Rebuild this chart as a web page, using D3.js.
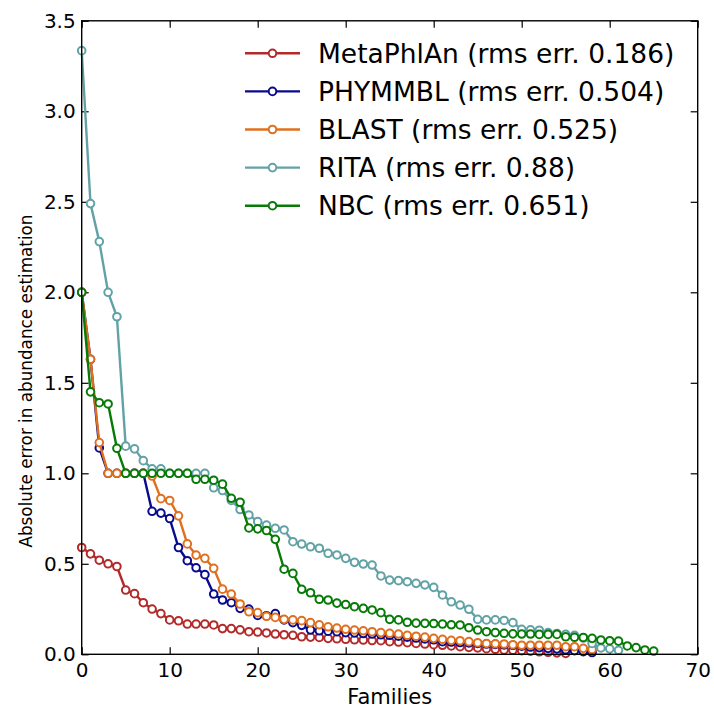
<!DOCTYPE html>
<html><head><meta charset="utf-8">
<script src="https://cdn.jsdelivr.net/npm/d3@7"></script>
<style>body{margin:0;background:#fff}svg{display:block}</style>
</head><body>
<script>
const seriesNames = ["MetaPhlAn (rms err. 0.186)","PHYMMBL (rms err. 0.504)","BLAST (rms err. 0.525)","RITA (rms err. 0.88)","NBC (rms err. 0.651)"];
const seriesColors = ["#b22a2a","#0a0a8c","#e0701e","#62a2a6","#077a07"];
const metaphlan = [0.59,0.555,0.52,0.50,0.485,0.355,0.335,0.285,0.25,0.225,0.19,0.185,0.167,0.167,0.167,0.162,0.142,0.142,0.135,0.125,0.123,0.118,0.112,0.108,0.105,0.097,0.095,0.093,0.088,0.086,0.083,0.08,0.079,0.076,0.075,0.07,0.068,0.064,0.06,0.057,0.053,0.05,0.046,0.042,0.038,0.035,0.031,0.028,0.024,0.022,0.02,0.017,0.014,0.011,0.008,0.005];
const phymmbl = [2.0,1.63,1.14,1.0,1.0,1.0,1.0,1.0,0.79,0.78,0.75,0.59,0.517,0.478,0.44,0.333,0.30,0.285,0.254,0.25,0.215,0.213,0.225,0.19,0.175,0.16,0.135,0.13,0.128,0.125,0.12,0.118,0.115,0.112,0.108,0.105,0.1,0.095,0.09,0.085,0.08,0.07,0.068,0.065,0.063,0.06,0.057,0.055,0.052,0.05,0.045,0.04,0.037,0.033,0.03,0.025,0.02,0.015,0.01];
const blast = [2.0,1.63,1.17,1.0,1.0,1.0,1.0,1.0,0.985,0.86,0.85,0.765,0.61,0.548,0.53,0.475,0.36,0.333,0.278,0.235,0.23,0.21,0.204,0.193,0.19,0.186,0.175,0.163,0.152,0.145,0.138,0.134,0.13,0.125,0.12,0.116,0.112,0.105,0.1,0.095,0.088,0.083,0.077,0.075,0.07,0.064,0.06,0.058,0.057,0.053,0.05,0.05,0.05,0.05,0.05,0.042,0.042,0.033,0.027];
const rita = [3.335,2.49,2.28,2.0,1.865,1.15,1.135,1.07,1.025,1.025,1.0,1.0,1.0,1.0,1.0,0.92,0.905,0.85,0.80,0.77,0.733,0.714,0.696,0.687,0.622,0.609,0.594,0.586,0.558,0.549,0.53,0.508,0.499,0.493,0.433,0.41,0.407,0.401,0.392,0.383,0.37,0.328,0.29,0.272,0.249,0.193,0.19,0.19,0.187,0.175,0.138,0.135,0.133,0.12,0.115,0.11,0.105,0.09,0.06,0.035,0.03,0.022];
const nbc = [2.0,1.45,1.39,1.383,1.138,1.0,1.0,1.0,1.0,1.0,1.0,1.0,1.0,0.967,0.967,0.962,0.94,0.862,0.84,0.698,0.693,0.684,0.635,0.47,0.447,0.359,0.34,0.304,0.30,0.283,0.275,0.263,0.254,0.245,0.23,0.193,0.19,0.177,0.172,0.171,0.17,0.167,0.163,0.162,0.147,0.134,0.125,0.12,0.116,0.113,0.112,0.112,0.11,0.11,0.11,0.097,0.094,0.093,0.088,0.079,0.075,0.073,0.046,0.037,0.024,0.018];
const xTicks = [0,10,20,30,40,50,60,70];
const yTicks = [0.0,0.5,1.0,1.5,2.0,2.5,3.0,3.5];
const xLabel = "Families";
const yLabel = "Absolute error in abundance estimation";

(function(){
const allSeries = [metaphlan, phymmbl, blast, rita, nbc];
const W = 714, H = 708;
const L = 81.7, R = 697.7, T = 20.8, B = 654.3;
const svg = d3.select("body").append("svg").attr("width", W).attr("height", H);
const x = d3.scaleLinear().domain([0,70]).range([L,R]);
const y = d3.scaleLinear().domain([0,3.5]).range([B,T]);
const tickFont = "'DejaVu Sans', sans-serif";

const tl = 7;
const gBottom = svg.append("g").attr("transform",`translate(0,${B})`)
  .call(d3.axisBottom(x).tickValues(xTicks).tickFormat(d3.format("d")).tickSizeInner(-tl).tickSizeOuter(0).tickPadding(13));
const gTop = svg.append("g").attr("transform",`translate(0,${T})`)
  .call(d3.axisTop(x).tickValues(xTicks).tickFormat("").tickSizeInner(-tl).tickSizeOuter(0));
const gLeft = svg.append("g").attr("transform",`translate(${L},0)`)
  .call(d3.axisLeft(y).tickValues(yTicks).tickFormat(d3.format(".1f")).tickSizeInner(-tl).tickSizeOuter(0).tickPadding(13));
const gRight = svg.append("g").attr("transform",`translate(${R},0)`)
  .call(d3.axisRight(y).tickValues(yTicks).tickFormat("").tickSizeInner(-tl).tickSizeOuter(0));
[gBottom,gTop,gLeft,gRight].forEach(g=>{
  g.select(".domain").remove();
  g.selectAll(".tick line").attr("stroke","#000").attr("stroke-width",1.2);
  g.selectAll(".tick text").attr("font-family",tickFont).attr("font-size",20).attr("fill","#000");
});
gBottom.selectAll(".tick text").attr("dy","0.71em").attr("y",9);
gLeft.selectAll(".tick text").attr("x",-6);

const line = d3.line().x((d,i)=>x(i)).y(d=>y(d));
allSeries.forEach((s,k)=>{
  const g = svg.append("g");
  g.append("path").datum(s).attr("d",line).attr("fill","none")
    .attr("stroke",seriesColors[k]).attr("stroke-width",2.4).attr("stroke-linejoin","round");
  g.selectAll("circle").data(s).join("circle")
    .attr("cx",(d,i)=>x(i)).attr("cy",d=>y(d)).attr("r",3.8)
    .attr("fill","#fff").attr("stroke",seriesColors[k]).attr("stroke-width",2);
});

svg.append("rect").attr("x",L).attr("y",T).attr("width",R-L).attr("height",B-T)
  .attr("fill","none").attr("stroke","#000").attr("stroke-width",1.4);

const lg = svg.append("g");
seriesNames.forEach((name,k)=>{
  const yy = 53.3 + k*38.1;
  lg.append("line").attr("x1",245).attr("x2",300).attr("y1",yy).attr("y2",yy)
    .attr("stroke",seriesColors[k]).attr("stroke-width",2.4);
  lg.append("circle").attr("cx",272.5).attr("cy",yy).attr("r",3.8)
    .attr("fill","#fff").attr("stroke",seriesColors[k]).attr("stroke-width",2);
  lg.append("text").attr("x",318).attr("y",yy).attr("dy","0.36em")
    .attr("font-family",tickFont).attr("font-size",26.5).attr("fill","#000").text(name);
});

svg.append("text").attr("x",(L+R)/2).attr("y",704).attr("text-anchor","middle")
  .attr("font-family",tickFont).attr("font-size",21).attr("fill","#000").text(xLabel);
svg.append("text").attr("transform","translate(32,381) rotate(-90)").attr("text-anchor","middle")
  .attr("font-family",tickFont).attr("font-size",16.8).attr("fill","#000").text(yLabel);
})();
</script>
</body></html>
